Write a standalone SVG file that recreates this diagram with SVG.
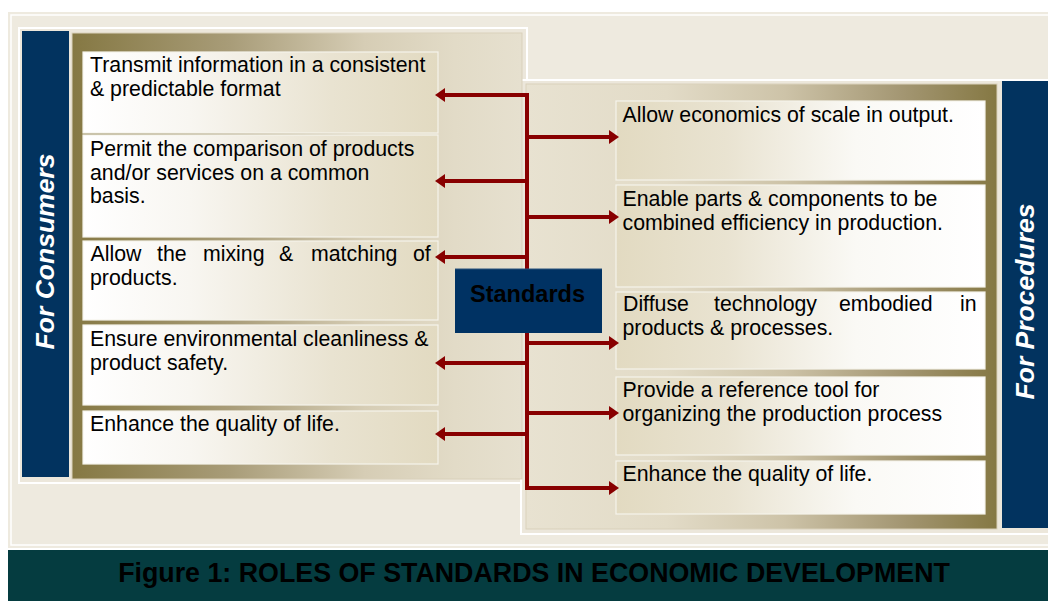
<svg xmlns="http://www.w3.org/2000/svg" width="1048" height="601" viewBox="0 0 1048 601">
<defs>
<linearGradient id="gL" x1="0" y1="0" x2="1" y2="0">
<stop offset="0" stop-color="#857843"/>
<stop offset="0.35" stop-color="#a89c78"/>
<stop offset="0.65" stop-color="#d6cdb5"/>
<stop offset="0.85" stop-color="#e2dbc7"/>
<stop offset="1" stop-color="#e6e0cf"/>
</linearGradient>
<linearGradient id="gR" x1="0" y1="0" x2="1" y2="0">
<stop offset="0" stop-color="#e8e2d1"/>
<stop offset="0.3" stop-color="#e2dbc7"/>
<stop offset="0.55" stop-color="#cdc3a8"/>
<stop offset="0.8" stop-color="#a39672"/>
<stop offset="1" stop-color="#857843"/>
</linearGradient>
<linearGradient id="bL" x1="0" y1="0" x2="1" y2="0">
<stop offset="0" stop-color="#ffffff"/>
<stop offset="0.3" stop-color="#f8f6f1"/>
<stop offset="0.7" stop-color="#e9e3d1"/>
<stop offset="1" stop-color="#e2dac1"/>
</linearGradient>
<linearGradient id="bR" x1="0" y1="0" x2="1" y2="0">
<stop offset="0" stop-color="#e2dac1"/>
<stop offset="0.3" stop-color="#e9e3d1"/>
<stop offset="0.65" stop-color="#faf9f5"/>
<stop offset="1" stop-color="#ffffff"/>
</linearGradient>
<marker id="ah" viewBox="0 0 10 14" markerUnits="userSpaceOnUse" markerWidth="10" markerHeight="14" refX="0" refY="7" orient="auto-start-reverse">
<path d="M0,0 L10,7 L0,14 Z" fill="#880000"/>
</marker>
<style>
.box{stroke:#f6f3ec;stroke-width:1.2}
.bl{fill:url(#bL)}
.br{fill:url(#bR)}
.t{font-family:"Liberation Sans",Arial,sans-serif;font-size:21.3px;fill:#000}
.side{font-family:"Liberation Sans",Arial,sans-serif;font-size:26.5px;font-weight:bold;font-style:italic;fill:#fff;text-anchor:middle}
.blue{fill:#02335f}
.con{fill:none;stroke:#880000;stroke-width:4}
</style>
</defs>

<rect x="8" y="12" width="1040" height="536" fill="#eeeadf"/>
<rect x="11" y="15" width="1040" height="530" fill="none" stroke="#ffffff" stroke-width="1.5"/>
<rect x="19" y="28" width="508" height="455" fill="#ece7db" stroke="#ffffff" stroke-width="2"/>
<rect x="521" y="80" width="530" height="454" fill="#ece7db" stroke="#ffffff" stroke-width="2"/>

<g id="left-panel">
<rect x="72" y="33" width="450" height="446" fill="url(#gL)" stroke="#d9d1bb" stroke-width="1"/>
</g>
<g id="right-panel">
<rect x="526" y="84" width="471" height="445" fill="url(#gR)" stroke="#d9d1bb" stroke-width="1"/>
</g>

<g id="for-consumers">
<rect class="blue" x="22" y="31" width="47" height="446"/>
<text class="side" transform="translate(54,251.5) rotate(-90)">For Consumers</text>
</g>
<g id="for-procedures">
<rect class="blue" x="1002" y="81" width="46" height="447"/>
<text class="side" transform="translate(1034,301.5) rotate(-90)">For Procedures</text>
</g>

<g id="c1">
<rect class="box bl" x="83" y="52" width="355" height="81"/>
<text class="t" x="90" y="72">Transmit information in a consistent</text>
<text class="t" x="90" y="96">&amp; predictable format</text>
</g>
<g id="c2">
<rect class="box bl" x="83" y="135" width="355" height="102"/>
<text class="t" x="90" y="156">Permit the comparison of products</text>
<text class="t" x="90" y="179.5">and/or services on a common</text>
<text class="t" x="90" y="203">basis.</text>
</g>
<g id="c3">
<rect class="box bl" x="83" y="241" width="355" height="79"/>
<text class="t" y="261"><tspan x="90.5">Allow</tspan><tspan x="157">the</tspan><tspan x="203">mixing</tspan><tspan x="279">&amp;</tspan><tspan x="311">matching</tspan><tspan x="413">of</tspan></text>
<text class="t" x="90" y="285">products.</text>
</g>
<g id="c4">
<rect class="box bl" x="83" y="325" width="355" height="80"/>
<text class="t" x="90" y="346">Ensure environmental cleanliness &amp;</text>
<text class="t" x="90" y="370">product safety.</text>
</g>
<g id="c5">
<rect class="box bl" x="83" y="411" width="355" height="53"/>
<text class="t" x="90" y="431">Enhance the quality of life.</text>
</g>

<g id="p1">
<rect class="box br" x="616" y="101" width="369" height="79"/>
<text class="t" x="622.5" y="122">Allow economics of scale in output.</text>
</g>
<g id="p2">
<rect class="box br" x="616" y="185" width="369" height="102"/>
<text class="t" x="622.5" y="206">Enable parts &amp; components to be</text>
<text class="t" x="622.5" y="229.5">combined efficiency in production.</text>
</g>
<g id="p3">
<rect class="box br" x="616" y="292" width="369" height="77"/>
<text class="t" y="311"><tspan x="623">Diffuse</tspan><tspan x="714">technology</tspan><tspan x="839">embodied</tspan><tspan x="960">in</tspan></text>
<text class="t" x="622.5" y="335">products &amp; processes.</text>
</g>
<g id="p4">
<rect class="box br" x="616" y="377" width="369" height="78"/>
<text class="t" x="622.5" y="397">Provide a reference tool for</text>
<text class="t" x="622.5" y="421">organizing the production process</text>
</g>
<g id="p5">
<rect class="box br" x="616" y="461" width="369" height="53"/>
<text class="t" x="622.5" y="481">Enhance the quality of life.</text>
</g>

<g id="connectors">
<path class="con" d="M445,95 H527 V488 H609" marker-start="url(#ah)" marker-end="url(#ah)"/>
<path class="con" d="M527,181 H445" marker-end="url(#ah)"/>
<path class="con" d="M527,257 H445" marker-end="url(#ah)"/>
<path class="con" d="M527,363 H445" marker-end="url(#ah)"/>
<path class="con" d="M527,434 H445" marker-end="url(#ah)"/>
<path class="con" d="M527,137 H609" marker-end="url(#ah)"/>
<path class="con" d="M527,217 H609" marker-end="url(#ah)"/>
<path class="con" d="M527,343 H609" marker-end="url(#ah)"/>
<path class="con" d="M527,413 H609" marker-end="url(#ah)"/>
</g>

<g id="standards">
<rect x="455" y="269" width="147" height="64" fill="#003263"/>
<path d="M455,269 H602" stroke="#2b527c" stroke-width="1" fill="none"/>
<text x="527.5" y="301.5" font-family="'Liberation Sans',Arial,sans-serif" font-size="23.5" font-weight="bold" fill="#000" text-anchor="middle">Standards</text>
</g>

<g id="caption">
<rect x="8" y="550" width="1040" height="51" fill="#053c40"/>
<text x="534" y="582" font-family="'Liberation Sans',Arial,sans-serif" font-size="26.8" font-weight="bold" fill="#000" text-anchor="middle">Figure 1: ROLES OF STANDARDS IN ECONOMIC DEVELOPMENT</text>
</g>
</svg>
